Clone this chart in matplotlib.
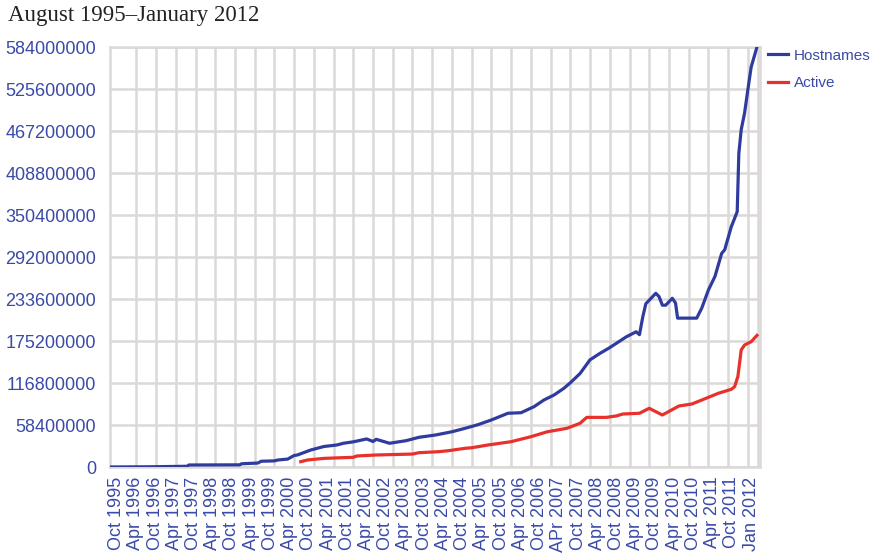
import matplotlib
matplotlib.use("Agg")
import matplotlib.pyplot as plt
import pandas as pd

# Hostnames (total sites), en millions
dates_hosts = ["1995-08-01", "1996-08-01", "1997-07-15", "1997-08-01", "1998-11-15",
               "1998-12-01", "1999-05-01", "1999-06-01", "1999-10-01", "1999-11-01",
               "2000-02-01", "2000-04-01", "2000-05-01", "2000-09-01", "2001-01-01",
               "2001-05-01", "2001-07-01", "2001-10-01", "2002-02-01", "2002-04-01",
               "2002-05-01", "2002-09-01", "2003-02-01", "2003-06-01", "2003-11-01",
               "2004-04-01", "2004-08-01", "2004-12-01", "2005-04-01", "2005-09-01",
               "2006-01-01", "2006-05-01", "2006-08-01", "2006-11-01", "2007-02-01",
               "2007-04-01", "2007-07-01", "2007-10-01", "2008-01-01", "2008-04-01",
               "2008-09-01", "2008-12-01", "2009-01-01", "2009-02-01", "2009-03-01",
               "2009-06-01", "2009-07-01", "2009-08-01", "2009-09-01", "2009-11-01",
               "2009-12-01", "2009-12-20", "2010-06-15", "2010-08-01", "2010-10-01",
               "2010-12-01", "2011-02-01", "2011-03-01", "2011-05-01", "2011-06-25",
               "2011-07-10", "2011-08-01", "2011-09-01", "2011-10-01", "2011-11-01",
               "2011-12-25"]
hosts = [0.02, 0.3, 1.0, 2.8, 3.0,
         4.5, 5.5, 8.0, 8.5, 9.7,
         11.0, 16.0, 16.7, 23.6, 28.5,
         30.6, 33.0, 35.0, 39.0, 35.5,
         38.5, 33.0, 36.6, 41.3, 44.5,
         49.0, 53.8, 59.0, 65.4, 74.7,
         75.5, 83.9, 93.2, 100.0, 109.4,
         117.0, 130.0, 149.0, 158.0, 166.0,
         181.0, 188.0, 184.0, 209.0, 227.0,
         241.5, 237.0, 225.0, 225.0, 234.6,
         228.0, 207.0, 207.0, 221.0, 246.0,
         265.0, 297.0, 302.0, 334.0, 355.0,
         436.0, 469.0, 492.0, 524.0, 556.0,
         584.0]

# Active sites
dates_active = ["2000-06-01", "2000-08-01", "2001-01-01", "2001-10-01", "2001-11-01",
                "2002-05-01", "2003-04-01", "2003-06-01", "2003-12-01", "2004-03-01",
                "2004-08-01", "2004-10-01", "2005-03-01", "2005-10-01", "2006-04-01",
                "2006-09-01", "2006-12-01", "2007-03-01", "2007-07-01", "2007-09-01",
                "2008-03-01", "2008-06-01", "2008-08-01", "2009-01-01", "2009-04-01",
                "2009-07-01", "2009-08-01", "2010-01-01", "2010-05-01", "2010-09-01",
                "2011-01-01", "2011-05-01", "2011-06-01", "2011-07-01", "2011-08-01",
                "2011-09-01", "2011-11-01", "2011-12-25"]
active = [7.4, 9.7, 12.0, 13.5, 15.3,
          16.7, 18.0, 19.9, 21.3, 22.7,
          26.0, 26.8, 30.6, 35.2, 42.1,
          49.0, 51.4, 53.8, 60.8, 69.0,
          69.0, 71.0, 73.7, 74.7, 81.6,
          74.7, 72.3, 84.8, 87.6, 95.0,
          102.5, 108.0, 111.7, 125.6, 162.7,
          169.6, 174.2, 183.0]

# lignes verticales de la grille (tous les 6 mois)
grid_dates = ["1995-10-01", "1996-04-01", "1996-10-01", "1997-04-01", "1997-10-01",
              "1998-04-01", "1998-10-01", "1999-04-01", "1999-10-01", "2000-04-01",
              "2000-10-01", "2001-04-01", "2001-10-01", "2002-04-01", "2002-10-01",
              "2003-04-01", "2003-10-01", "2004-04-01", "2004-10-01", "2005-04-01",
              "2005-10-01", "2006-04-01", "2006-10-01", "2007-04-01", "2007-10-01",
              "2008-04-01", "2008-10-01", "2009-04-01", "2009-10-01", "2010-04-01",
              "2010-10-01", "2011-04-01", "2011-10-01", "2012-01-01"]
tick_labels = ["Oct 1995", "Apr 1996", "Oct 1996", "Apr 1997", "Oct 1997",
               "Apr 1998", "Oct 1998", "Apr 1999", "Oct 1999", "Apr 2000",
               "Oct 2000", "Apr 2001", "Oct 2001", "Apr 2002", "Oct 2002",
               "Apr 2003", "Oct 2003", "Apr 2004", "Oct 2004", "Apr 2005",
               "Oct 2005", "Apr 2006", "Oct 2006", "APr 2007", "Oct 2007",
               "Apr 2008", "Oct 2008", "Apr 2009", "Oct 2009", "Apr 2010",
               "Oct 2010", "Apr 2011", "Oct 2011", "Jan 2012"]
y_ticks = [0, 58400000, 116800000, 175200000, 233600000, 292000000,
           350400000, 408800000, 467200000, 525600000, 584000000]

bleu = "#2f3c9e"
rouge = "#e8312b"
texte = "#3a4aa8"
grille = "#dcd8d8"

plt.rcParams["font.family"] = ["Liberation Sans", "DejaVu Sans"]

fig = plt.figure(figsize=(8.93, 5.59), dpi=100)
ax = fig.add_axes([110 / 893, 92 / 559, 650 / 893, 420 / 559])

x_h = pd.to_datetime(dates_hosts)
x_a = pd.to_datetime(dates_active)
ax.plot(x_h, [v * 1e6 for v in hosts], color=bleu, lw=2.3, label="Hostnames", zorder=3)
ax.plot(x_a, [v * 1e6 for v in active], color=rouge, lw=2.3, label="Active", zorder=3)

ax.set_xlim(pd.Timestamp("1995-08-01"), pd.Timestamp("2012-01-22"))
ax.set_ylim(0, 584000000)

# grille sur les dates, étiquettes régulièrement espacées comme dans l'original
ax.set_xticks(pd.to_datetime(grid_dates), minor=True)
debut = pd.Timestamp("1995-10-01")
pas = pd.Timedelta(days=178)
ax.set_xticks([debut + i * pas for i in range(len(tick_labels))])
ax.set_xticklabels(tick_labels, rotation=90, fontsize=13, color=texte)
ax.set_yticks(y_ticks)
ax.set_yticklabels([str(v) for v in y_ticks], fontsize=13, color=texte)
ax.tick_params(axis="both", which="both", length=0)
ax.tick_params(axis="y", pad=10)
ax.tick_params(axis="x", pad=7)

ax.grid(False, axis="x", which="major")
ax.grid(True, axis="x", which="minor", color=grille, lw=1.8, zorder=0)
ax.grid(True, axis="y", which="major", color=grille, lw=1.8, zorder=0)
ax.set_axisbelow(True)
for s in ax.spines.values():
    s.set_color(grille)
    s.set_linewidth(1.8)

leg = ax.legend(loc="upper left", bbox_to_anchor=(1.012, 0.996), frameon=False,
                fontsize=11, handlelength=1.3, handletextpad=0.4,
                labelspacing=0.9, borderpad=0, borderaxespad=0)
for t in leg.get_texts():
    t.set_color(texte)

fig.text(8 / 893, 1 - 15 / 559, "August 1995\u2013January 2012", fontsize=16.5,
         family="Liberation Serif", color="#222222", va="center", ha="left")

fig.savefig("out.png", dpi=100)
